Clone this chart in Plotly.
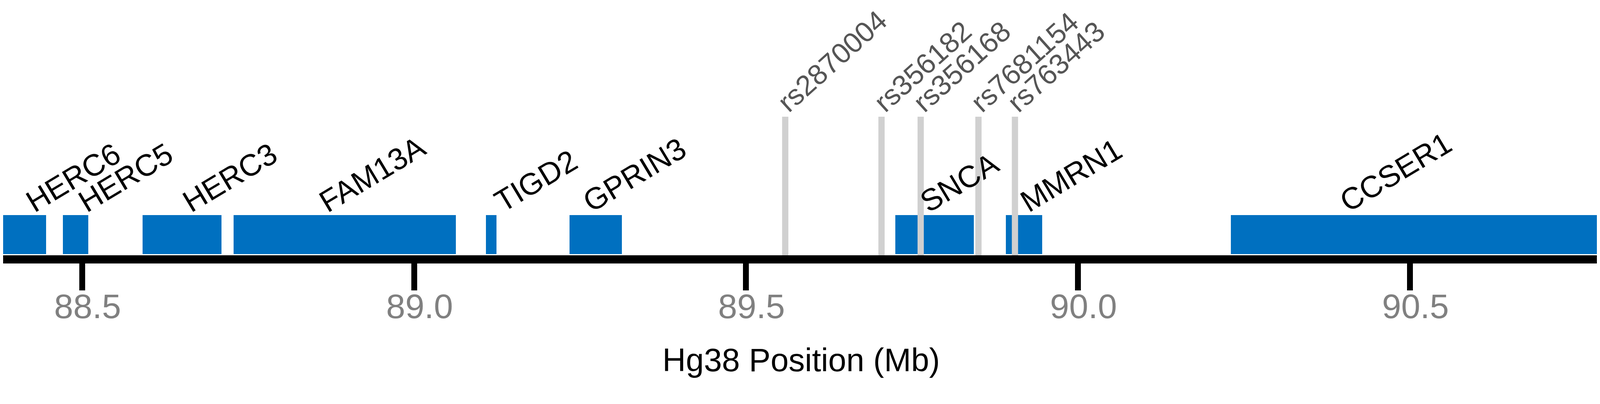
import plotly.graph_objs as go

# gene track, positions in Mb (hg38)
genes = ['HERC6', 'HERC5', 'HERC3', 'FAM13A', 'TIGD2', 'GPRIN3', 'SNCA', 'MMRN1', 'CCSER1']
gene_start = [88.379, 88.471, 88.591, 88.728, 89.108, 89.234, 89.725, 89.891, 90.230]
gene_end = [88.446, 88.509, 88.710, 89.063, 89.124, 89.313, 89.843, 89.946, 90.786]
# where each gene name starts (Mb)
gene_label_at = [88.414, 88.493, 88.650, 88.856, 89.120, 89.253, 89.761, 89.912, 90.393]

snps = ['rs2870004', 'rs356182', 'rs356168', 'rs7681154', 'rs763443']
snp_pos = [89.559, 89.704, 89.763, 89.850, 89.905]

tick_vals = [88.5, 89.0, 89.5, 90.0, 90.5]
tick_text = ['88.5', '89.0', '89.5', '90.0', '90.5']

FONT = 'Arial, Liberation Sans, sans-serif'
BLUE = '#0070C0'

# snp marker lines (drawn first so gene boxes sit on top)
lx, ly = [], []
for p in snp_pos:
    lx += [p, p, None]
    ly += [0, 355, None]
snp_lines = go.Scatter(x=lx, y=ly, mode='lines',
                       line={'color': '#D0D0D0', 'width': 16},
                       hoverinfo='skip', showlegend=False)

gene_bars = go.Bar(y=[53.5] * len(genes),
                   x=[e - s for s, e in zip(gene_start, gene_end)],
                   base=gene_start, orientation='h', width=100,
                   marker={'color': BLUE, 'line': {'width': 0}},
                   text=genes, hoverinfo='text', textposition='none',
                   showlegend=False)

annotations = []
for g, lp in zip(genes, gene_label_at):
    annotations.append(dict(x=lp, y=103, xref='x', yref='y',
                            text=g, showarrow=False, textangle=-31,
                            xanchor='left', yanchor='bottom',
                            xshift=-16, yshift=-12,
                            font={'family': FONT, 'size': 78, 'color': 'black'}))
for r, p in zip(snps, snp_pos):
    annotations.append(dict(x=p, y=355, xref='x', yref='y',
                            text=r, showarrow=False, textangle=-42,
                            xanchor='left', yanchor='bottom',
                            xshift=-38, yshift=-6,
                            font={'family': FONT, 'size': 73, 'color': '#555555'}))

layout = go.Layout(
    width=4086, height=968,
    margin={'l': 0, 'r': 0, 't': 0, 'b': 322},
    paper_bgcolor='white', plot_bgcolor='white',
    bargap=0,
    xaxis={'range': [88.381, 90.785], 'showgrid': False, 'zeroline': False,
           'showline': True, 'linecolor': 'black', 'linewidth': 21,
           'ticks': 'outside', 'ticklen': 69, 'tickwidth': 15, 'tickcolor': 'black',
           'tickvals': tick_vals, 'ticktext': tick_text,
           'ticklabelstandoff': -35, 'ticklabelshift': 14,
           'tickfont': {'family': FONT, 'size': 88, 'color': '#808080'},
           'title': {'text': 'Hg38 Position (Mb)', 'standoff': 70,
                     'font': {'family': FONT, 'size': 83, 'color': 'black'}},
           'automargin': False, 'fixedrange': True},
    yaxis={'range': [0, 646], 'visible': False, 'fixedrange': True},
    annotations=annotations,
)

fig = go.Figure(data=[snp_lines, gene_bars], layout=layout)
fig.write_html('out.html')
